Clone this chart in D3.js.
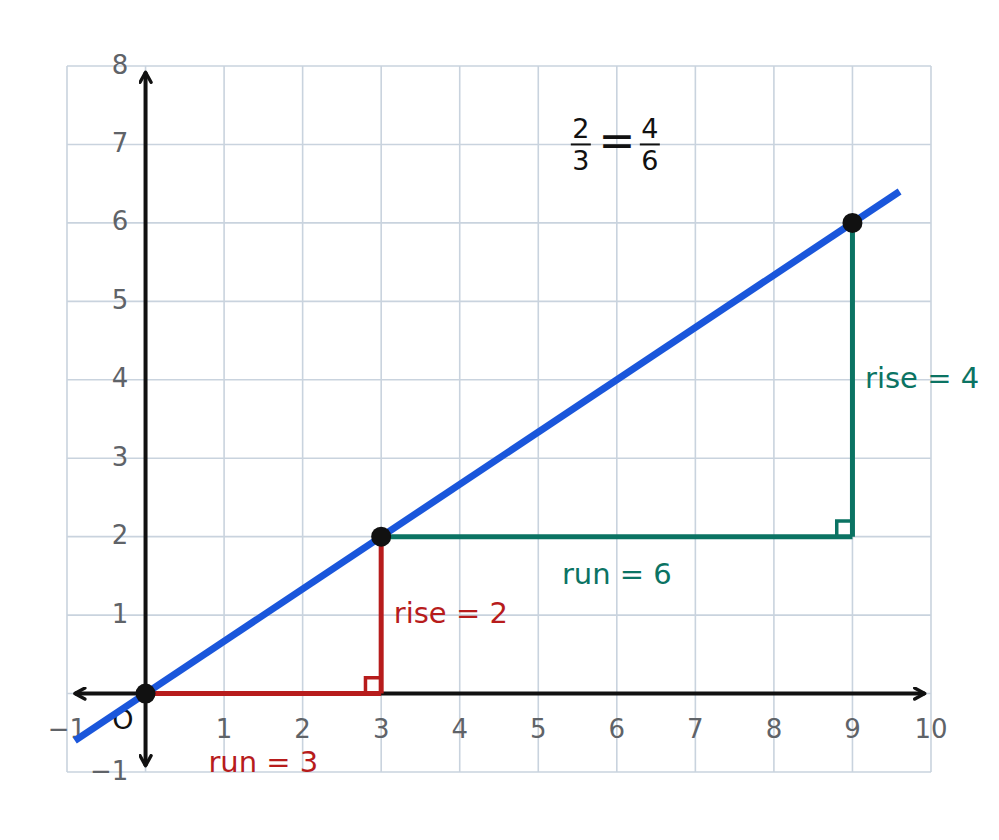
<!DOCTYPE html>
<html>
<head>
<meta charset="utf-8">
<script src="https://cdn.jsdelivr.net/npm/d3@7"></script>
<style>
  body { margin: 0; background: #fff; }
  text { font-family: "DejaVu Sans", sans-serif; }
</style>
</head>
<body>
<div id="chart"></div>
<script>
const width = 999
const height = 840

const margin = {top: 66, right: 68, bottom: 68, left: 67}

// data
const xTicks = [-1, 0, 1, 2, 3, 4, 5, 6, 7, 8, 9, 10]
const yTicks = [-1, 0, 1, 2, 3, 4, 5, 6, 7, 8]
const lineEnds = [[-0.9, -0.6], [9.6, 6.4]]
const points = [[0, 0], [3, 2], [9, 6]]
const runSmall = [[0, 0], [3, 0]]
const riseSmall = [[3, 0], [3, 2]]
const runBig = [[3, 2], [9, 2]]
const riseBig = [[9, 2], [9, 6]]
const labels = [
  {text: "run = 3", x: 1.5, y: -0.9, anchor: "middle", color: "#b71c1c"},
  {text: "rise = 2", x: 3.16, y: 1.0, anchor: "start", color: "#b71c1c"},
  {text: "run = 6", x: 6.0, y: 1.5, anchor: "middle", color: "#0b7363"},
  {text: "rise = 4", x: 9.16, y: 4.0, anchor: "start", color: "#0b7363"}
]

const svg = d3.select("div#chart").append("svg").attr("width", width).attr("height", height)

const x = d3.scaleLinear().domain([-1, 10]).range([margin.left, width - margin.right])
const y = d3.scaleLinear().domain([-1, 8]).range([height - margin.bottom, margin.top])

const line = d3.line().x(d => x(d[0])).y(d => y(d[1]))

// grid
const grid = svg.append("g").attr("class", "grid")
grid.selectAll("line.v").data(xTicks).enter().append("line")
    .attr("x1", d => x(d)).attr("x2", d => x(d))
    .attr("y1", y(-1)).attr("y2", y(8))
    .attr("stroke", "#c9d3de").attr("stroke-width", 1.6)
grid.selectAll("line.h").data(yTicks).enter().append("line")
    .attr("y1", d => y(d)).attr("y2", d => y(d))
    .attr("x1", x(-1)).attr("x2", x(10))
    .attr("stroke", "#c9d3de").attr("stroke-width", 1.6)

// arrow marker
const defs = svg.append("defs")
defs.append("marker")
    .attr("id", "arrow")
    .attr("viewBox", "0 0 14 14")
    .attr("refX", 12).attr("refY", 7)
    .attr("markerWidth", 14).attr("markerHeight", 14)
    .attr("markerUnits", "userSpaceOnUse")
    .attr("orient", "auto-start-reverse")
    .append("path")
    .attr("d", "M2,1.5 L12,7 L2,12.5")
    .attr("fill", "none").attr("stroke", "#111").attr("stroke-width", 3.4)
    .attr("stroke-linecap", "round").attr("stroke-linejoin", "round")

// axes
svg.append("path").attr("d", line([[-0.9, 0], [9.92, 0]]))
    .attr("stroke", "#111").attr("stroke-width", 4).attr("fill", "none")
    .attr("marker-start", "url(#arrow)").attr("marker-end", "url(#arrow)")
svg.append("path").attr("d", line([[0, -0.92], [0, 7.92]]))
    .attr("stroke", "#111").attr("stroke-width", 4).attr("fill", "none")
    .attr("marker-start", "url(#arrow)").attr("marker-end", "url(#arrow)")

// tick labels
svg.selectAll("text.xt").data(xTicks.filter(d => d !== 0)).enter().append("text")
    .attr("x", d => x(d)).attr("y", y(-0.47))
    .attr("text-anchor", "middle").attr("dominant-baseline", "middle")
    .attr("font-size", 26).attr("fill", "#5f6368")
    .text(d => d < 0 ? "\u2212" + Math.abs(d) : d)
svg.selectAll("text.yt").data(yTicks.filter(d => d !== 0)).enter().append("text")
    .attr("x", x(-0.22)).attr("y", d => y(d))
    .attr("text-anchor", "end").attr("dominant-baseline", "middle")
    .attr("font-size", 26).attr("fill", "#5f6368")
    .text(d => d < 0 ? "\u2212" + Math.abs(d) : d)
svg.append("text")
    .attr("x", x(-0.29)).attr("y", y(-0.35))
    .attr("text-anchor", "middle").attr("dominant-baseline", "middle")
    .attr("font-size", 27).attr("fill", "#111").text("O")

// right angle markers
const sq = 0.2
svg.append("path").attr("d", line([[3 - sq, 0], [3 - sq, sq], [3, sq]]))
    .attr("stroke", "#b71c1c").attr("stroke-width", 3.5).attr("fill", "none")
svg.append("path").attr("d", line([[9 - sq, 2], [9 - sq, 2 + sq], [9, 2 + sq]]))
    .attr("stroke", "#0b7363").attr("stroke-width", 3.5).attr("fill", "none")

// run / rise segments
svg.append("path").attr("d", line(runBig)).attr("stroke", "#0b7363").attr("stroke-width", 5).attr("fill", "none")
svg.append("path").attr("d", line(riseBig)).attr("stroke", "#0b7363").attr("stroke-width", 5).attr("fill", "none")
svg.append("path").attr("d", line(runSmall)).attr("stroke", "#b71c1c").attr("stroke-width", 5).attr("fill", "none")
svg.append("path").attr("d", line(riseSmall)).attr("stroke", "#b71c1c").attr("stroke-width", 5).attr("fill", "none")

// main line
svg.append("path").attr("d", line(lineEnds))
    .attr("stroke", "#1a56db").attr("stroke-width", 7).attr("fill", "none")

// points
svg.selectAll("circle").data(points).enter().append("circle")
    .attr("cx", d => x(d[0])).attr("cy", d => y(d[1])).attr("r", 10)
    .attr("fill", "#111")

// labels
svg.selectAll("text.lab").data(labels).enter().append("text")
    .attr("x", d => x(d.x)).attr("y", d => y(d.y))
    .attr("text-anchor", d => d.anchor).attr("dominant-baseline", "middle")
    .attr("font-size", 29).attr("fill", d => d.color)
    .text(d => d.text)

// fraction 2/3 = 4/6
const frac = svg.append("g").attr("transform", `translate(${x(6)},${y(7)})`)
function fraction(cx, num, den) {
  frac.append("text").attr("x", cx).attr("y", -14).attr("text-anchor", "middle")
      .attr("dominant-baseline", "middle").attr("font-size", 27).attr("fill", "#111").text(num)
  frac.append("line").attr("x1", cx - 10).attr("x2", cx + 10).attr("y1", 0).attr("y2", 0)
      .attr("stroke", "#111").attr("stroke-width", 2)
  frac.append("text").attr("x", cx).attr("y", 18).attr("text-anchor", "middle")
      .attr("dominant-baseline", "middle").attr("font-size", 27).attr("fill", "#111").text(den)
}
fraction(-36, "2", "3")
fraction(33, "4", "6")
frac.append("text").attr("x", 0).attr("y", 0).attr("text-anchor", "middle")
    .attr("dominant-baseline", "middle").attr("font-size", 44).attr("fill", "#111").text("=")
</script>
</body>
</html>
